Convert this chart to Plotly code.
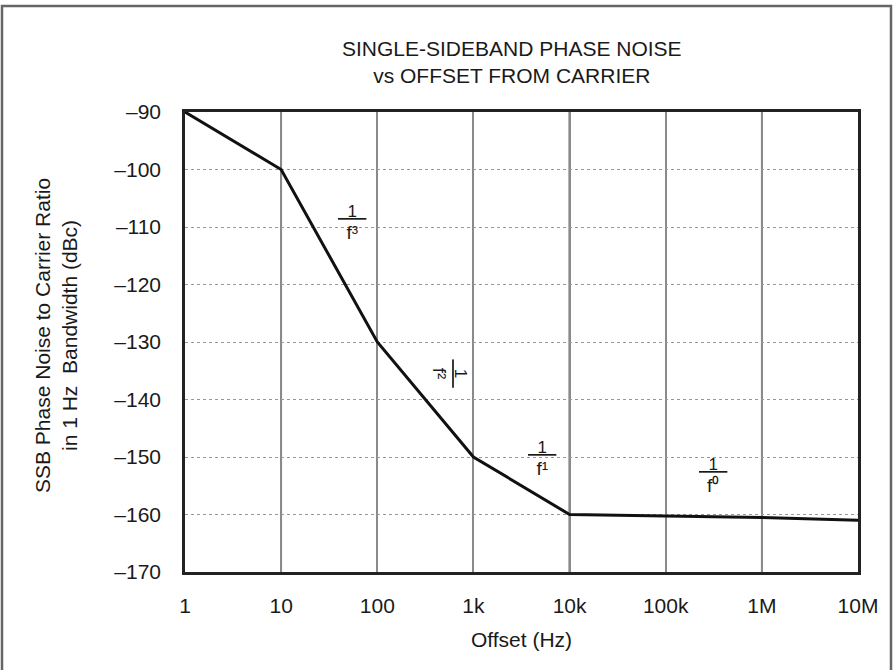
import math
import plotly.graph_objects as go

# data
offset_hz = [1, 10, 100, 1e3, 1e4, 1e5, 1e6, 1e7]
noise_dbc = [-90, -100, -130, -150, -160, -160.3, -160.5, -161]
x_tickvals = [1, 10, 100, 1e3, 1e4, 1e5, 1e6, 1e7]
x_ticktext = ["1", "10", "100", "1k", "10k", "100k", "1M", "10M"]
y_tickvals = [-90, -100, -110, -120, -130, -140, -150, -160, -170]
y_ticktext = ["–90", "–100", "–110", "–120", "–130", "–140", "–150", "–160", "–170"]
dark_grid_hz = [10, 1e4, 1e6]
slope_denoms = ["f³", "f²", "f¹", "f⁰"]
slope_x = [55, 560, 5200, 310000]
slope_y = [-109.3, -135.5, -150.2, -153.3]
slope_angle = [0, 90, 0, 0]

FONT = "Liberation Sans"
INK = "#1a1a1a"
W, H = 893, 670
L, R, T, B = 185, 35, 112, 98
FS = 21

fig = go.Figure()
fig.add_trace(go.Scatter(x=offset_hz, y=noise_dbc, mode="lines",
                         line=dict(color="#111", width=3), showlegend=False))

for gx in dark_grid_hz:
    fig.add_shape(type="line", xref="x", yref="paper", x0=gx, x1=gx, y0=0, y1=1,
                  line=dict(color="#222", width=1.8), layer="below")

# fraction labels 1/f^n (underlined numerator acts as the fraction bar)
for den, sx, sy, ang in zip(slope_denoms, slope_x, slope_y, slope_angle):
    txt = ("<span style='font-size:17px;text-decoration:underline'>&nbsp;&nbsp;1&nbsp;&nbsp;</span>"
           "<br><span style='font-size:19px'>" + den + "</span>")
    fig.add_annotation(x=math.log10(sx), y=sy, xref="x", yref="y", showarrow=False,
                       text=txt, textangle=ang,
                       font=dict(family=FONT, size=17, color=INK),
                       align="center", xanchor="center", yanchor="middle")

pw = W - L - R
ph = H - T - B
def px2paper_x(p):
    return (p - L) / pw
def px2paper_y(p):
    return (H - B - p) / ph

fig.add_annotation(x=px2paper_x(512), y=px2paper_y(62), xref="paper", yref="paper",
                   showarrow=False, text="SINGLE-SIDEBAND PHASE NOISE<br>vs OFFSET FROM CARRIER",
                   font=dict(family=FONT, size=FS, color=INK), align="center",
                   xanchor="center", yanchor="middle")
fig.add_annotation(x=px2paper_x(56), y=px2paper_y(336), xref="paper", yref="paper",
                   showarrow=False, textangle=-90,
                   text="SSB Phase Noise to Carrier Ratio<br>in 1 Hz  Bandwidth (dBc)",
                   font=dict(family=FONT, size=FS, color=INK), align="center",
                   xanchor="center", yanchor="middle")

fig.add_shape(type="rect", xref="paper", yref="paper",
              x0=px2paper_x(2), x1=px2paper_x(891), y0=px2paper_y(690), y1=px2paper_y(6),
              line=dict(color="#666", width=2.5))

fig.update_xaxes(type="log", range=[0, 7], tickvals=x_tickvals, ticktext=x_ticktext,
                 showgrid=True, gridcolor="#8a8a8a", gridwidth=1.5,
                 showline=True, linecolor="#222", linewidth=2.5, mirror=True,
                 ticks="", ticklabelstandoff=13,
                 tickfont=dict(family=FONT, size=FS, color=INK),
                 title=dict(text="Offset (Hz)", font=dict(family=FONT, size=FS, color=INK),
                            standoff=17),
                 zeroline=False)
fig.update_yaxes(range=[-170, -90], tickvals=y_tickvals, ticktext=y_ticktext,
                 showgrid=True, gridcolor="#999", gridwidth=1, griddash="dot",
                 showline=True, linecolor="#222", linewidth=2.5, mirror=True,
                 ticks="", ticklabelstandoff=17,
                 tickfont=dict(family=FONT, size=FS, color=INK),
                 zeroline=False)

fig.update_layout(width=W, height=H, margin=dict(l=L, r=R, t=T, b=B),
                  plot_bgcolor="white", paper_bgcolor="white", showlegend=False)

fig.write_html("out.html")
